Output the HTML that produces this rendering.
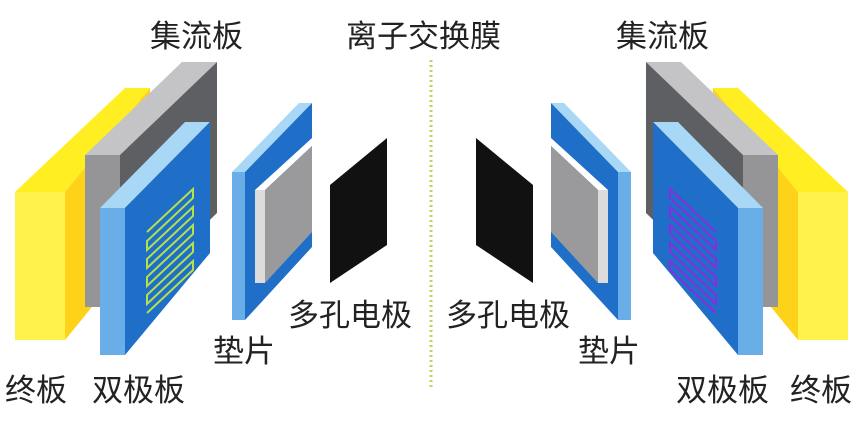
<!DOCTYPE html>
<html><head><meta charset="utf-8"><style>
html,body{margin:0;padding:0;background:#fff;width:865px;height:422px;overflow:hidden}
svg text{font-family:"Liberation Sans","Noto Sans CJK SC",sans-serif;font-size:31px;fill:#222}
</style></head><body>
<svg width="865" height="422" viewBox="0 0 865 422" xmlns="http://www.w3.org/2000/svg">
<defs>
<g id="half">
  <polygon points="15,192 65,192 150,88 125,88" fill="#ffee22"/>
  <polygon points="65,192 150,88 150,236 65,340" fill="#ffd21a"/>
  <rect x="15" y="192" width="50" height="148" fill="#fff24a"/>
  <polygon points="85,155 120,155 217,62 182,62" fill="#c4c4c6"/>
  <polygon points="120,155 217,62 217,213 120,307" fill="#5e5f62"/>
  <rect x="85" y="155" width="35" height="152" fill="#959597"/>
  <polygon points="100,208 125,208 210,122 185,122" fill="#a8d8f6"/>
  <polygon points="125,208 210,122 210,253 125,355" fill="#1f6fc8"/>
  <rect x="100" y="208" width="25" height="147" fill="#6aaee8"/>
  <polygon points="232,172 245,172 312,103 299,103" fill="#a8d8f6"/>
  <polygon points="245,172 312,103 312,247 245,320" fill="#1f6fc8"/>
  <rect x="232" y="172" width="13" height="148" fill="#6aaee8"/>
  <polygon points="255,190 265,190 312,146 312,138" fill="#ffffff"/>
  <polygon points="255,190 265,190 265,283 255,283" fill="#dcdcdc"/>
  <polygon points="265,190 312,146 312,232 265,283" fill="#9a9a9c"/>
  <polygon points="330,185 387,138 387,245 330,283" fill="#111"/>
</g>
</defs>
<use href="#half"/>
<g transform="translate(863,0) scale(-1,1)"><use href="#half"/></g>
<polyline points="147,232 193,189 193,198 147,241 147,250 193,207 193,216 147,259 147,268 193,225 193,234 147,277 147,286 193,243 193,252 147,295 147,304 193,261 193,270 147,313" fill="none" stroke="#b6e04a" stroke-width="2"/>
<polyline points="716,232 670,189 670,198 716,241 716,250 670,207 670,216 716,259 716,268 670,225 670,234 716,277 716,286 670,243 670,252 716,295 716,304 670,261 670,270 716,313" fill="none" stroke="#8a2be2" stroke-width="2"/>
<line x1="431" y1="60" x2="431" y2="388" stroke="#c8d060" stroke-width="3" stroke-dasharray="2,3"/>
<text x="150" y="47">集流板</text>
<text x="346" y="47">离子交换膜</text>
<text x="616" y="47">集流板</text>
<text x="288" y="326">多孔电极</text>
<text x="446" y="326">多孔电极</text>
<text x="213" y="362">垫片</text>
<text x="578" y="362">垫片</text>
<text x="5" y="401">终板</text>
<text x="92" y="401">双极板</text>
<text x="676" y="401">双极板</text>
<text x="790" y="401">终板</text>
</svg>
</body></html>
